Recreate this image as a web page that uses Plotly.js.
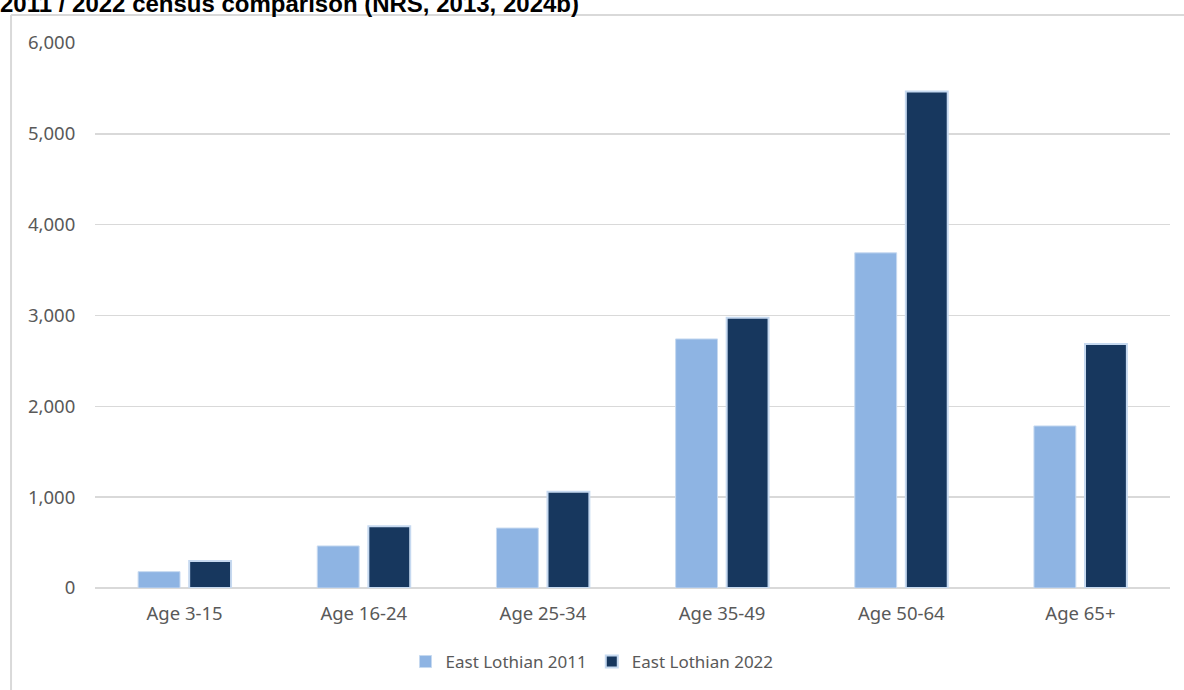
<!DOCTYPE html>
<html>
<head>
<meta charset="utf-8">
<script src="https://cdn.plot.ly/plotly-3.0.1.min.js"></script>
<style>
  html, body { margin: 0; padding: 0; background: #ffffff; }
  #chart { width: 1184px; height: 690px; }
</style>
</head>
<body>
<div id="chart"></div>
<script>
const categories = ["Age 3-15", "Age 16-24", "Age 25-34", "Age 35-49", "Age 50-64", "Age 65+"];
const seriesNames = ["East Lothian 2011", "East Lothian 2022"];
const values2011 = [180, 463, 660, 2742, 3690, 1784];
const values2022 = [298, 680, 1060, 2975, 5465, 2687];
const yTickVals = [0, 1000, 2000, 3000, 4000, 5000, 6000];
const titleText = "2011 / 2022 census comparison (NRS, 2013, 2024b)";

const font = "Noto Sans, Open Sans, sans-serif";
const grey = "#595959";

const traces = [
  {
    type: "bar",
    name: seriesNames[0],
    x: categories,
    y: values2011,
    marker: { color: "#8eb4e3", line: { color: "#c6d9f0", width: 1 } },
    hoverinfo: "skip"
  },
  {
    type: "bar",
    name: seriesNames[1],
    x: categories,
    y: values2022,
    marker: { color: "#17375e", line: { color: "#c6d9f0", width: 2 } },
    hoverinfo: "skip"
  }
];

const layout = {
  width: 1184,
  height: 690,
  margin: { l: 95, r: 14, t: 43, b: 102 },
  paper_bgcolor: "#ffffff",
  plot_bgcolor: "#ffffff",
  barmode: "group",
  bargap: 0.43,
  bargroupgap: 0.18,
  showlegend: true,
  title: {
    text: "<b>" + titleText + "</b>",
    font: { family: "Liberation Sans, Arial, sans-serif", size: 24, color: "#000000" },
    x: 0, xref: "container", xanchor: "left",
    y: 0.9945, yref: "container", yanchor: "middle"
  },
  xaxis: {
    type: "category",
    showgrid: false,
    showline: false,
    zeroline: false,
    ticks: "outside",
    ticklen: 9,
    tickcolor: "rgba(0,0,0,0)",
    tickfont: { family: font, size: 18.5, color: grey }
  },
  yaxis: {
    range: [0, 6000],
    tickvals: yTickVals,
    tickformat: ",d",
    showgrid: true,
    gridcolor: "#d9d9d9",
    gridwidth: 1.5,
    zeroline: true,
    zerolinecolor: "#d9d9d9",
    zerolinewidth: 1.5,
    showline: false,
    ticks: "outside",
    ticklen: 15,
    tickcolor: "rgba(0,0,0,0)",
    tickfont: { family: font, size: 18.5, color: grey }
  },
  legend: {
    orientation: "h",
    xref: "container", yref: "container",
    x: 0.5, xanchor: "center",
    y: 0.0406, yanchor: "middle",
    font: { family: font, size: 17, color: grey },
    itemwidth: 30,
    traceorder: "normal"
  },
  shapes: [
    { type: "line", xref: "paper", yref: "paper", x0: -0.0781, x1: -0.0781, y0: 1.0514, y1: -0.25,
      line: { color: "#d9d9d9", width: 2 } },
    { type: "line", xref: "paper", yref: "paper", x0: -0.0781, x1: 1.05, y0: 1.0514, y1: 1.0514,
      line: { color: "#d9d9d9", width: 2 } }
  ]
};

Plotly.newPlot("chart", traces, layout, { displayModeBar: false, staticPlot: true });
</script>
</body>
</html>
